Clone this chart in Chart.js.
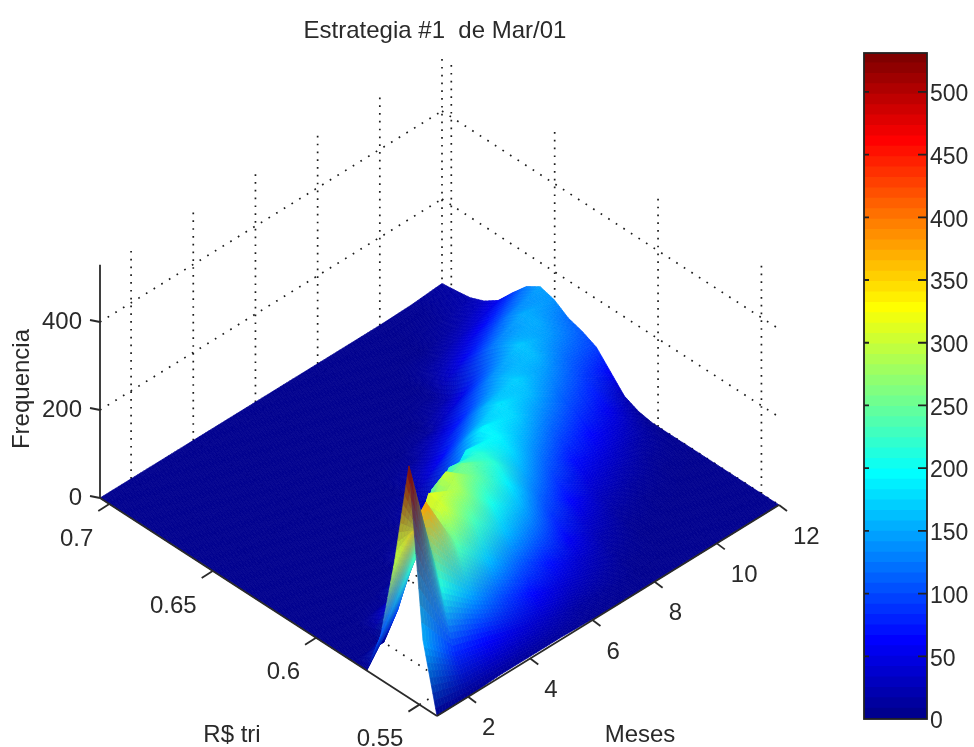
<!DOCTYPE html>
<html>
<head>
<meta charset="utf-8">
<title>Estrategia #1 de Mar/01</title>
<script src="https://cdn.jsdelivr.net/npm/chart.js@4/dist/chart.umd.min.js"></script>
<style>
  html, body { margin: 0; background: #fff; }
  canvas { position: absolute; top: 0; filter: blur(0.45px); }
  #surfaceChart { left: 0; }
  #barChart { left: 860px; }
</style>
</head>
<body>
<canvas id="surfaceChart" width="870" height="747"></canvas>
<canvas id="barChart" width="114" height="747"></canvas>
<script>
const months = [1, 2, 3, 4, 5, 6, 7, 8, 9, 10, 11, 12];
const rTri = [0.7045, 0.6977, 0.6909, 0.6841, 0.6773, 0.6705, 0.6637, 0.6570, 0.6502, 0.6434, 0.6366, 0.6298, 0.6230,
              0.6162, 0.6094, 0.6026, 0.5958, 0.5890, 0.5823, 0.5755, 0.5687, 0.5619, 0.5551, 0.5483, 0.5415];

// frequency per R$ tri bin, one list per month
const freq1  = [0, 0, 0, 0, 0, 0, 0, 0, 0, 0, 0, 0, 0, 0, 0, 0, 0, 0, 0, 0, 100, 292, 527, 152, 0];
const freq2  = [0, 0, 0, 0, 0, 0, 0, 0, 0, 0, 0, 0, 0, 0, 0, 0, 0, 0, 0, 95, 220, 380, 210, 80, 0];
const freq3  = [0, 0, 0, 0, 0, 0, 0, 0, 0, 0, 0, 0, 0, 0, 0, 0, 5, 60, 190, 315, 305, 235, 145, 60, 5];
const freq4  = [0, 0, 0, 0, 0, 0, 0, 0, 0, 0, 0, 0, 0, 0, 0, 5, 100, 240, 300, 280, 230, 160, 95, 40, 5];
const freq5  = [0, 0, 0, 0, 0, 0, 0, 0, 0, 0, 0, 0, 0, 5, 40, 110, 225, 255, 245, 205, 160, 105, 60, 25, 5];
const freq6  = [0, 0, 0, 0, 0, 0, 0, 0, 0, 0, 0, 5, 20, 60, 110, 200, 215, 215, 185, 150, 110, 65, 32, 10, 2];
const freq7  = [0, 0, 0, 0, 0, 0, 0, 0, 0, 5, 25, 55, 100, 150, 190, 190, 175, 145, 112, 82, 55, 30, 15, 5, 0];
const freq8  = [0, 0, 0, 0, 0, 0, 0, 0, 8, 35, 70, 115, 155, 180, 172, 145, 115, 85, 60, 35, 18, 8, 2, 0, 0];
const freq9  = [0, 0, 0, 0, 0, 0, 4, 18, 45, 90, 130, 155, 170, 155, 125, 95, 65, 40, 22, 10, 3, 0, 0, 0, 0];
const freq10 = [0, 0, 0, 0, 8, 25, 50, 85, 120, 145, 165, 158, 135, 110, 85, 60, 38, 20, 8, 2, 0, 0, 0, 0, 0];
const freq11 = [2, 2, 5, 12, 28, 55, 90, 125, 150, 150, 138, 115, 95, 75, 50, 30, 14, 5, 1, 0, 0, 0, 0, 0, 0];
const freq12 = [8, 12, 17, 30, 52, 90, 125, 145, 136, 115, 105, 90, 55, 20, 6, 0, 0, 0, 0, 0, 0, 0, 0, 0, 0];
const freqRows = [freq1, freq2, freq3, freq4, freq5, freq6, freq7, freq8, freq9, freq10, freq11, freq12];

const monthTicks = [2, 4, 6, 8, 10, 12];
const rTicks = [0.7, 0.65, 0.6, 0.55];
const rTickLabels = ['0.7', '0.65', '0.6', '0.55'];
const freqTicks = [0, 200, 400];

const mMin = 1, mMax = 12, rMax = 0.7045, rMin = 0.5415, zMax = 530, colorMax = 531;
const textColor = '#2a2a2a';
const fontName = '"Liberation Sans", Arial, sans-serif';

// orthographic view of the box, in the units of the hidden x/y scales
function project(m, r, z) {
    const u = (m - mMin) / (mMax - mMin);
    const v = (rMax - r) / (rMax - rMin);
    return { x: 100 + 342 * u + 337 * v, y: 498 - 211 * u + 218 * v - 0.44 * z };
}

function jet(t) {
    const c = a => Math.round(255 * Math.max(0, Math.min(1, 1.5 - Math.abs(4 * t - a))));
    return [c(3), c(2), c(1)];
}
function zColor(z) {
    return jet((Math.min(z, colorMax) / colorMax * 63 + 1) / 64);
}

function lineSet(a, b, dash) {
    return {
        data: [a, b], showLine: true, pointRadius: 0, borderColor: dash ? '#1c1c1c' : '#2a2a2a',
        borderWidth: dash ? 1.7 : 1.8, borderDash: dash || [], tension: 0
    };
}
function tickSet(p, dx, dy) {
    return lineSet(p, { x: p.x + dx, y: p.y + dy });
}

const upDots = [1.7, 6.1];
const slantDots = [1.7, 7.3];

// solid axes come first so they are painted last
const axisSets = [
    lineSet(project(mMin, rMax, 0), project(mMin, rMax, zMax)),
    lineSet(project(mMin, rMax, 0), project(mMin, rMin, 0)),
    lineSet(project(mMin, rMin, 0), project(mMax, rMin, 0))
];
freqTicks.forEach(z => axisSets.push(tickSet(project(mMin, rMax, z), -10, -2)));
rTicks.forEach(r => axisSets.push(tickSet(project(mMin, r, 0), -11, 7)));
monthTicks.forEach(m => axisSets.push(tickSet(project(m, rMin, 0), 8, 6)));

const gridSets = [];
monthTicks.forEach(m => {
    gridSets.push(lineSet(project(m, rMax, 0), project(m, rMax, zMax), upDots));
    gridSets.push(lineSet(project(m, rMax, 0), project(m, rMin, 0), slantDots));
});
rTicks.forEach(r => {
    gridSets.push(lineSet(project(mMax, r, 0), project(mMax, r, zMax), upDots));
    gridSets.push(lineSet(project(mMin, r, 0), project(mMax, r, 0), slantDots));
});
freqTicks.slice(1).forEach(z => {
    gridSets.push(lineSet(project(mMin, rMax, z), project(mMax, rMax, z), slantDots));
    gridSets.push(lineSet(project(mMax, rMax, z), project(mMax, rMin, z), slantDots));
});

function drawSurface(chart) {
    const ctx = chart.ctx, sx = chart.scales.x, sy = chart.scales.y;
    const steps = 10;
    const nodes = freqRows.map((row, i) => row.map((z, k) => {
        const p = project(months[i], rTri[k], z);
        return { x: sx.getPixelForValue(p.x), y: sy.getPixelForValue(p.y), c: zColor(z) };
    }));
    const mix = (a, b, c, d, s, t, f) => (1 - s) * (1 - t) * f(a) + s * (1 - t) * f(b) + s * t * f(c) + (1 - s) * t * f(d);
    ctx.save();
    ctx.lineWidth = 0.7;
    // back to front: last month first, highest R$ first
    for (let i = nodes.length - 1; i > 0; i--) {
        for (let k = 0; k < rTri.length - 1; k++) {
            const a = nodes[i][k], b = nodes[i][k + 1], c = nodes[i - 1][k + 1], d = nodes[i - 1][k];
            const at = (s, t) => [mix(a, b, c, d, s, t, n => n.x), mix(a, b, c, d, s, t, n => n.y)];
            for (let q = 0; q < steps; q++) {
                for (let w = 0; w < steps; w++) {
                    const s0 = w / steps, s1 = (w + 1) / steps, t0 = q / steps, t1 = (q + 1) / steps;
                    const sm = (s0 + s1) / 2, tm = (t0 + t1) / 2;
                    const col = [0, 1, 2].map(j => Math.round(mix(a, b, c, d, sm, tm, n => n.c[j])));
                    const style = 'rgb(' + col.join(',') + ')';
                    ctx.fillStyle = style;
                    ctx.strokeStyle = style;
                    ctx.beginPath();
                    ctx.moveTo(...at(s0, t0));
                    ctx.lineTo(...at(s1, t0));
                    ctx.lineTo(...at(s1, t1));
                    ctx.lineTo(...at(s0, t1));
                    ctx.closePath();
                    ctx.fill();
                    ctx.stroke();
                }
            }
        }
    }
    ctx.restore();
}

const surfacePlugin = {
    id: 'surface',
    afterDatasetDraw(chart, args) {
        if (args.index === axisSets.length) drawSurface(chart);
    },
    afterDraw(chart) {
        const ctx = chart.ctx, sx = chart.scales.x, sy = chart.scales.y;
        const put = (text, p, dx, dy, align) => {
            ctx.textAlign = align;
            ctx.fillText(text, sx.getPixelForValue(p.x) + dx, sy.getPixelForValue(p.y) + dy);
        };
        ctx.save();
        ctx.fillStyle = textColor;
        ctx.textBaseline = 'middle';
        ctx.font = '24px ' + fontName;
        freqTicks.forEach(z => put(String(z), project(mMin, rMax, z), -18, 0, 'right'));
        rTicks.forEach((r, i) => put(rTickLabels[i], project(mMin, r, 0), -16, 35, 'right'));
        monthTicks.forEach(m => put(String(m), project(m, rMin, 0), 14, 32, 'left'));
        ctx.textAlign = 'center';
        ctx.fillText('R$ tri', 232, 735);
        ctx.fillText('Meses', 640, 735);
        ctx.translate(22, 389);
        ctx.rotate(-Math.PI / 2);
        ctx.fillText('Frequencia', 0, 0);
        ctx.restore();
    }
};

new Chart(document.getElementById('surfaceChart'), {
    type: 'scatter',
    data: { datasets: [...axisSets, ...gridSets] },
    options: {
        responsive: false,
        animation: false,
        layout: { padding: 0 },
        plugins: {
            legend: { display: false },
            tooltip: { enabled: false },
            title: {
                display: true,
                text: 'Estrategia #1  de Mar/01',
                color: textColor,
                font: { family: fontName, size: 24, weight: 'normal', lineHeight: 1.2 },
                padding: { top: 17, bottom: 4.2 }
            }
        },
        scales: {
            x: { type: 'linear', min: 0, max: 870, display: false },
            y: { type: 'linear', min: 50, max: 747, reverse: true, display: false }
        }
    },
    plugins: [surfacePlugin]
});

// colour bar: 64 flat bands stacked on a real value axis
const bandColors = Array.from({ length: 64 }, (_, i) => jet((i + 1) / 64));
const bandSets = bandColors.map((c, i) => ({
    data: [[i * colorMax / 64, (i + 1.05) * colorMax / 64]],
    backgroundColor: 'rgb(' + c.join(',') + ')',
    borderWidth: 0,
    grouped: false,
    barPercentage: 1,
    categoryPercentage: 1
}));

const barFrame = {
    id: 'barFrame',
    afterDatasetsDraw(chart) {
        const ctx = chart.ctx, a = chart.chartArea, y = chart.scales.y;
        ctx.save();
        ctx.strokeStyle = '#222';
        ctx.lineWidth = 1.8;
        ctx.strokeRect(a.left, a.top, a.right - a.left, a.bottom - a.top);
        y.ticks.forEach(t => {
            if (t.value === 0) return;
            const py = y.getPixelForValue(t.value);
            ctx.beginPath();
            ctx.moveTo(a.left, py);
            ctx.lineTo(a.left + 5, py);
            ctx.moveTo(a.right, py);
            ctx.lineTo(a.right - 9, py);
            ctx.stroke();
        });
        ctx.restore();
    }
};

new Chart(document.getElementById('barChart'), {
    type: 'bar',
    data: { labels: [''], datasets: bandSets },
    options: {
        responsive: false,
        animation: false,
        layout: { padding: { left: 4, top: 53, bottom: 28, right: 0 } },
        plugins: { legend: { display: false }, tooltip: { enabled: false } },
        scales: {
            x: { display: false },
            y: {
                position: 'right',
                min: 0,
                max: colorMax,
                afterFit(scale) { scale.width = 47; },
                grid: { display: false, drawTicks: false },
                border: { display: false },
                ticks: {
                    stepSize: 50,
                    includeBounds: false,
                    padding: 3,
                    labelOffset: 3,
                    color: textColor,
                    font: { family: fontName, size: 23 }
                }
            }
        }
    },
    plugins: [barFrame]
});
</script>
</body>
</html>
